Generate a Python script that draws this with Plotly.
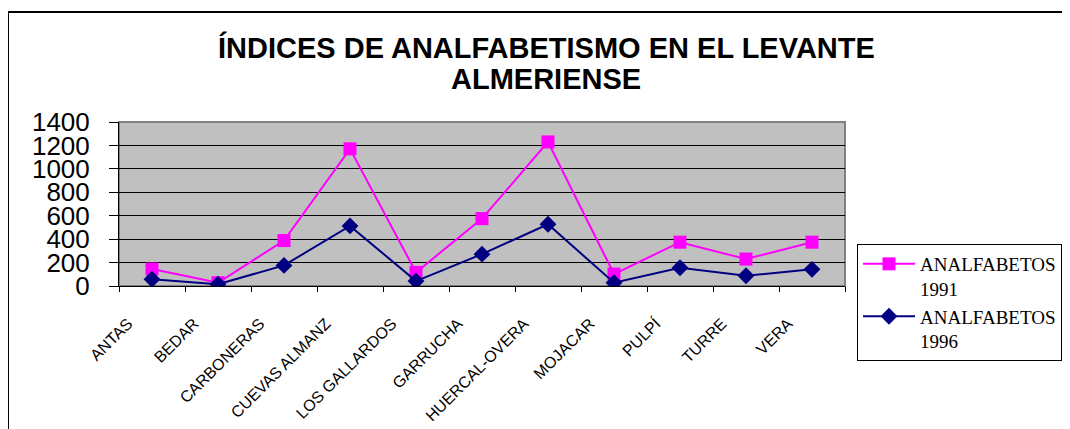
import plotly.graph_objects as go

categories = ["ANTAS", "BEDAR", "CARBONERAS", "CUEVAS ALMANZ", "LOS GALLARDOS",
              "GARRUCHA", "HUERCAL-OVERA", "MOJACAR", "PULPÍ", "TURRE", "VERA"]
analfabetos_1991 = [145, 28, 388, 1171, 116, 575, 1230, 102, 374, 230, 374]
analfabetos_1996 = [57, 15, 176, 513, 42, 272, 527, 28, 156, 88, 142]
y_ticks = [0, 200, 400, 600, 800, 1000, 1200, 1400]

OFF = 8  # default page body margin
W, H = 1070 - OFF, 429 - OFF
L, R, T, B = 119 - OFF, 225, 122 - OFF, 143
pw, ph = W - L - R, H - T - B


def px_x(x):
    return (x - OFF - L) / pw


def px_y(y):
    return (H - B - (y - OFF)) / ph


fig = go.Figure()
fig.add_trace(go.Scatter(
    x=categories, y=analfabetos_1991, name="ANALFABETOS<br>1991",
    mode="lines+markers",
    line=dict(color="#FF00FF", width=2),
    marker=dict(symbol="square", size=13, color="#FF00FF"),
))
fig.add_trace(go.Scatter(
    x=categories, y=analfabetos_1996, name="ANALFABETOS<br>1996",
    mode="lines+markers",
    line=dict(color="#000080", width=2),
    marker=dict(symbol="diamond", size=13, color="#000080"),
))

sans = "Liberation Sans, Arial, sans-serif"
serif = "Liberation Serif, Times New Roman, serif"

fig.update_layout(
    width=W, height=H,
    margin=dict(l=L, r=R, t=T, b=B, autoexpand=False),
    paper_bgcolor="white",
    plot_bgcolor="#C0C0C0",
    showlegend=True,
    legend=dict(
        x=px_x(857), y=px_y(244), xanchor="left", yanchor="top",
        bgcolor="white", bordercolor="black", borderwidth=1,
        font=dict(family=serif, size=19, color="black"),
        valign="top", tracegroupgap=0, itemwidth=52,
    ),
    xaxis=dict(
        type="category", range=[-0.5, len(categories) - 0.5],
        tickson="boundaries", ticks="outside", ticklen=5, tickcolor="black",
        tickangle=-45, showgrid=False, showline=True, linecolor="black", linewidth=1,
        tickfont=dict(family=sans, size=16, color="black"),
        ticklabelstandoff=21, ticklabelshift=-24,
        zeroline=False,
    ),
    yaxis=dict(
        range=[0, 1400], tickvals=y_ticks, ticktext=[str(v) for v in y_ticks],
        ticks="outside", ticklen=9, tickcolor="black",
        showgrid=True, gridcolor="black", gridwidth=1,
        showline=True, linecolor="black", linewidth=1,
        tickfont=dict(family=sans, size=26, color="black"),
        ticklabelstandoff=14, zeroline=False,
    ),
    annotations=[
        dict(text="<b>ÍNDICES DE ANALFABETISMO EN EL LEVANTE</b>", x=px_x(546), y=px_y(47),
             xref="paper", yref="paper", xanchor="center", yanchor="middle", showarrow=False,
             font=dict(family=sans, size=29, color="black")),
        dict(text="<b>ALMERIENSE</b>", x=px_x(546), y=px_y(79),
             xref="paper", yref="paper", xanchor="center", yanchor="middle", showarrow=False,
             font=dict(family=sans, size=29, color="black")),
    ],
    shapes=[
        dict(type="rect", xref="paper", yref="paper", x0=0, y0=0, x1=1, y1=1,
             line=dict(color="#808080", width=2), layer="below"),
        dict(type="rect", xref="paper", yref="paper", x0=px_x(8), y0=px_y(12),
             x1=px_x(1200), y1=px_y(600),
             line=dict(color="black", width=2)),
    ],
)

fig.write_html("out.html", config={"displayModeBar": False})
